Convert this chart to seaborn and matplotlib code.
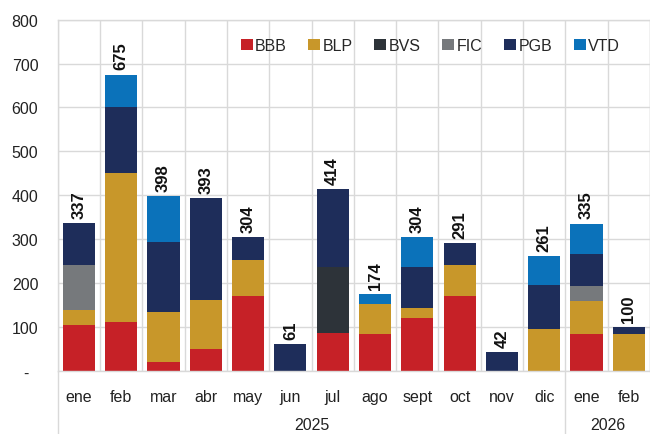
import numpy as np
import pandas as pd
import matplotlib
matplotlib.use("Agg")
import matplotlib.pyplot as plt
import matplotlib.transforms as mtransforms
import seaborn as sns

# Data (2025 ene .. 2026 feb)
months = ["ene", "feb", "mar", "abr", "may", "jun", "jul", "ago", "sept", "oct", "nov", "dic", "ene", "feb"]
years = ["2025"] * 12 + ["2026"] * 2
bbb = [105, 110, 20, 50, 170, 0, 85, 84, 119, 170, 0, 0, 84, 0]
blp = [34, 340, 113, 112, 82, 0, 0, 67, 25, 71, 0, 94, 75, 83]
bvs = [0, 0, 0, 0, 0, 0, 151, 0, 0, 0, 0, 0, 0, 0]
fic = [102, 0, 0, 0, 0, 0, 0, 0, 0, 0, 0, 0, 34, 0]
pgb = [96, 150, 161, 231, 52, 61, 178, 0, 93, 50, 42, 102, 74, 17]
vtd = [0, 75, 104, 0, 0, 0, 0, 23, 67, 0, 0, 65, 68, 0]
totals = [337, 675, 398, 393, 304, 61, 414, 174, 304, 291, 42, 261, 335, 100]

series = ["BBB", "BLP", "BVS", "FIC", "PGB", "VTD"]
colors = {"BBB": "#C62127", "BLP": "#C8972A", "BVS": "#2D3339",
          "FIC": "#76797C", "PGB": "#1E2D5A", "VTD": "#0B72BA"}

df = pd.DataFrame({"pos": range(len(months)), "BBB": bbb, "BLP": blp, "BVS": bvs,
                   "FIC": fic, "PGB": pgb, "VTD": vtd})
cum = df[series].cumsum(axis=1)
cum["pos"] = df["pos"]

sns.set_style("white")
plt.rcParams["font.family"] = ["Liberation Sans", "DejaVu Sans"]
plt.rcParams["font.size"] = 11.5

fig = plt.figure(figsize=(6.5, 4.35), dpi=100)
ax = fig.add_axes([0.0888, 0.1455, 0.9112, 0.807])

# stacked bars: draw cumulative totals from the top series down
for name in reversed(series):
    sns.barplot(data=cum, x="pos", y=name, color=colors[name], width=0.76,
                saturation=1, linewidth=0, ax=ax, label=name)

# total labels above bars
for i, t in enumerate(totals):
    ax.text(i, t + 12, str(t), rotation=90, ha="center", va="bottom",
            fontweight="bold", fontsize=12, color="#111111")

ax.set_ylim(0, 800)
ax.set_xlim(-0.5, len(months) - 0.5)
ax.set_yticks(range(0, 900, 100))
ax.set_yticklabels(["-  "] + [str(v) for v in range(100, 900, 100)])
ax.set_xticks(range(len(months)))
ax.set_xticklabels(months)
ax.set_xlabel("")
ax.set_ylabel("")
ax.tick_params(axis="y", length=0, pad=14, labelsize=11.5, labelcolor="#222222")
ax.tick_params(axis="x", length=0, pad=13, labelsize=11.5, labelcolor="#222222")

# grid
ax.set_axisbelow(True)
ax.grid(axis="y", color="#D9D9D9", linewidth=1)
ax.set_xticks(np.arange(-0.5, len(months), 1), minor=True)
ax.grid(axis="x", which="minor", color="#D9D9D9", linewidth=1)
ax.grid(axis="x", which="major", visible=False)
ax.tick_params(axis="x", which="minor", length=0)
for s in ax.spines.values():
    s.set_color("#D9D9D9")
    s.set_linewidth(1)

# year group labels and separators below the axis
trans = mtransforms.blended_transform_factory(ax.transData, ax.transAxes)
ax.text(5.5, -0.152, "2025", transform=trans, ha="center", va="center", fontsize=11.5, color="#222222")
ax.text(12.5, -0.152, "2026", transform=trans, ha="center", va="center", fontsize=11.5, color="#222222")
for xs in [-0.5, 11.5]:
    ax.plot([xs, xs], [0, -0.2], transform=trans, color="#D9D9D9", linewidth=1, clip_on=False)

# legend
handles, labels = ax.get_legend_handles_labels()
order = [labels.index(s) for s in series]
leg = ax.legend([handles[k] for k in order], series, ncol=6, frameon=False,
                loc="center left", bbox_to_anchor=(0.298, 0.926),
                handlelength=0.75, handleheight=0.75, handletextpad=0.15,
                columnspacing=1.35, fontsize=11.5, borderaxespad=0)

fig.savefig("out.png", dpi=100)
